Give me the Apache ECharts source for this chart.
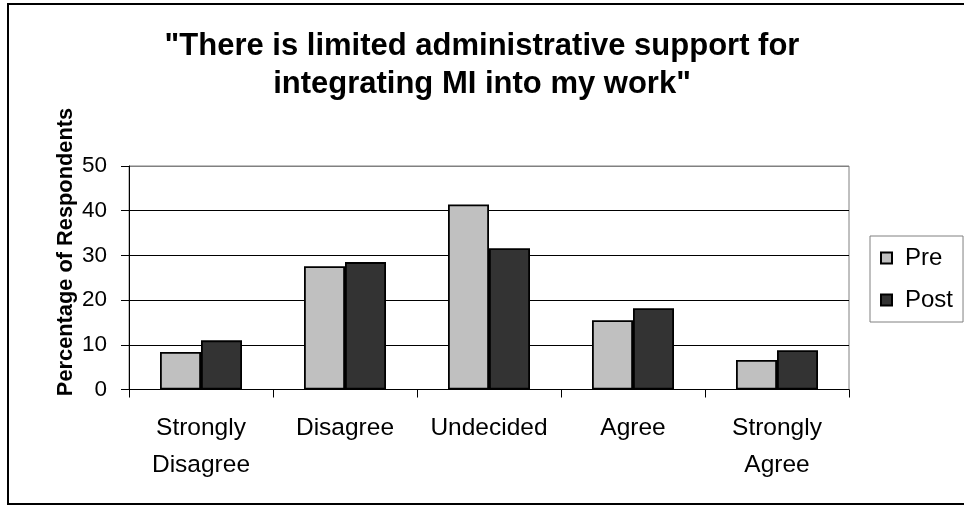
<!DOCTYPE html>
<html>
<head>
<meta charset="utf-8">
<script src="https://cdn.jsdelivr.net/npm/echarts@6/dist/echarts.min.js"></script>
<style>
  html, body { margin: 0; padding: 0; background: #fff; }
  #chart { width: 964px; height: 506px; }
</style>
</head>
<body>
<div id="chart"></div>
<script>
// Survey responses, percentage of respondents before and after training
const categories = ['Strongly\nDisagree', 'Disagree', 'Undecided', 'Agree', 'Strongly\nAgree'];
const preValues = [8.4, 27.6, 41.4, 15.5, 6.6];
const postValues = [11.0, 28.5, 31.6, 18.2, 8.8];
const yTicks = { min: 0, max: 50, interval: 10 };
const yAxisTitle = 'Percentage of Respondents';

const FONT = '"Liberation Sans", Arial, sans-serif';

const chart = echarts.init(document.getElementById('chart'), null, { renderer: 'canvas' });

chart.setOption({
  backgroundColor: '#fff',
  animation: false,
  textStyle: { fontFamily: FONT },
  title: {
    text: '"There is limited administrative support for\nintegrating MI into my work"',
    left: 'center',
    top: 27,
    padding: 0,
    textStyle: {
      fontFamily: FONT,
      fontSize: 31,
      fontWeight: 'bold',
      color: '#000',
      lineHeight: 38
    }
  },
  legend: {
    orient: 'vertical',
    left: 870,
    top: 236,
    padding: [8, 10, 8, 10],
    icon: 'rect',
    itemWidth: 11,
    itemHeight: 11,
    itemGap: 14,
    borderColor: '#808080',
    borderWidth: 1,
    textStyle: { fontFamily: FONT, fontSize: 24, color: '#000', lineHeight: 28, padding: [0, 0, 0, 8] },
    data: ['Pre', 'Post']
  },
  grid: {
    left: 129,
    right: 115,
    top: 166,
    bottom: 116.5,
    show: true,
    borderColor: '#808080',
    borderWidth: 1
  },
  xAxis: {
    type: 'category',
    data: categories,
    axisLine: { lineStyle: { color: '#000', width: 1 } },
    axisTick: { show: true, length: 8, inside: false, lineStyle: { color: '#000' } },
    axisLabel: {
      fontFamily: FONT,
      fontSize: 24.5,
      color: '#000',
      lineHeight: 37,
      margin: 20,
      interval: 0
    }
  },
  yAxis: {
    type: 'value',
    min: yTicks.min,
    max: yTicks.max,
    interval: yTicks.interval,
    axisLine: { show: true, lineStyle: { color: '#000', width: 1 } },
    axisTick: { show: true, length: 8, inside: false, lineStyle: { color: '#000' } },
    axisLabel: { fontFamily: FONT, fontSize: 22.5, color: '#000', margin: 22 },
    splitLine: {
      show: true,
      lineStyle: { color: ['#000', '#000', '#000', '#000', '#000', '#808080'], width: 1 }
    }
  },
  series: [
    {
      name: 'Pre',
      type: 'bar',
      data: preValues,
      barWidth: 41,
      barGap: '0%',
      itemStyle: { color: '#C0C0C0', borderColor: '#000', borderWidth: 1.8 }
    },
    {
      name: 'Post',
      type: 'bar',
      data: postValues,
      barWidth: 41,
      barGap: '0%',
      itemStyle: { color: '#333333', borderColor: '#000', borderWidth: 1.8 }
    }
  ],
  graphic: [
    {
      type: 'rect',
      silent: true,
      shape: { x: 8, y: 4, width: 970, height: 500 },
      style: { fill: 'none', stroke: '#000', lineWidth: 2 }
    },
    {
      type: 'text',
      silent: true,
      x: 66,
      y: 252,
      rotation: Math.PI / 2,
      style: {
        text: yAxisTitle,
        font: 'bold 21.8px ' + FONT,
        fill: '#000',
        align: 'center',
        verticalAlign: 'middle'
      }
    }
  ]
});
</script>
</body>
</html>
